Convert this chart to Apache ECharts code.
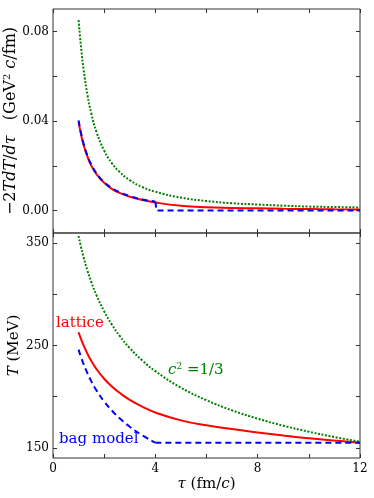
<!DOCTYPE html>
<html>
<head>
<meta charset="utf-8">
<script src="https://cdn.jsdelivr.net/npm/echarts@6/dist/echarts.min.js"></script>
<style>
  html, body { margin: 0; padding: 0; background: #fff; }
  #chart { width: 374px; height: 498px; }
</style>
</head>
<body>
<div id="chart"></div>
<script>
// proper time tau (fm/c)
var tau = [1, 1.1, 1.2, 1.35, 1.5, 1.7, 2, 2.3, 2.6, 3, 3.5, 4, 5, 6, 7, 8, 9, 10, 11, 12]

// -2T dT/dtau (GeV^2 c/fm)
var latticeRate = [0.0395, 0.0338, 0.0292, 0.0240, 0.0200, 0.0163, 0.0124, 0.0097, 0.0079, 0.0062, 0.0047, 0.0036, 0.0022, 0.0015, 0.0012, 0.0010, 0.0008, 0.0007, 0.0006, 0.0005]
var idealRate = [0.085, 0.0725, 0.0627, 0.0515, 0.0432, 0.0351, 0.0268, 0.0212, 0.0173, 0.0136, 0.0105, 0.0084, 0.0058, 0.0043, 0.0033, 0.0027, 0.0022, 0.0018, 0.0016, 0.0014]
var bagTau = [1, 1.1, 1.2, 1.35, 1.5, 1.7, 2, 2.3, 2.6, 3, 3.5, 4]
var bagRate = [0.0403, 0.0344, 0.0297, 0.0244, 0.0205, 0.0166, 0.0127, 0.0101, 0.0082, 0.0065, 0.0050, 0.0040]
var bagMixTau = [4, 4.05, 12]
var bagMixRate = [0.0040, 0, 0]

// T (MeV)
var latticeT = [263, 256, 249.8, 241.7, 234.8, 226.9, 217.5, 210, 203.8, 196.8, 190, 184.5, 176.8, 172, 168.3, 165, 162, 159.3, 157, 155]
var idealT = [357, 345.8, 335.9, 323, 311.9, 299.1, 283.4, 270.5, 259.6, 247.5, 235.1, 224.9, 208.8, 196.5, 186.6, 178.5, 171.6, 165.7, 160.5, 155.9]
var bagT = [246, 238.3, 231.5, 222.6, 214.9, 206.1, 195.3, 186.4, 178.9, 170.6, 162, 155]
var bagFlatTau = [4, 12]
var bagFlatT = [155, 155]

// ticks
var xTicks = [0, 2, 4, 6, 8, 10, 12]
var xLabels = [0, 4, 8, 12]
var rateTicks = [0, 0.02, 0.04, 0.06, 0.08]
var rateLabels = [0, 0.04, 0.08]
var tTicks = [150, 200, 250, 300, 350]
var tLabels = [150, 250, 350]

function pairs(xs, ys) {
    var out = []
    for (var i = 0; i < xs.length; i++) out.push([xs[i], ys[i]])
    return out
}

var serif = 'DejaVu Serif'
var frame = '#333'

function xAxis(grid, pos, showLabel) {
    return {
        type: 'value', gridIndex: grid, position: pos, min: 0, max: 12,
        axisLine: {show: false, onZero: false}, splitLine: {show: false},
        axisTick: {show: true, inside: true, length: 4, customValues: xTicks, lineStyle: {color: frame}},
        axisLabel: {show: showLabel, customValues: xLabels, margin: 5, color: '#000', fontFamily: serif, fontSize: 12}
    }
}

function yAxis(grid, pos, min, max, ticks, labels, fmt, showLabel) {
    return {
        type: 'value', gridIndex: grid, position: pos, min: min, max: max,
        axisLine: {show: false, onZero: false}, splitLine: {show: false},
        axisTick: {show: true, inside: true, length: 4, customValues: ticks, lineStyle: {color: frame}},
        axisLabel: {show: showLabel, customValues: labels, margin: 4, color: '#000', fontFamily: serif, fontSize: 12, formatter: fmt}
    }
}

var chart = echarts.init(document.getElementById('chart'))

var xs = [xAxis(0, 'bottom', false), xAxis(0, 'top', false), xAxis(1, 'bottom', true), xAxis(1, 'top', false)]
xs[2].name = '{i|τ} {n|(fm/}{i|c}{n|)}'
xs[2].nameLocation = 'middle'
xs[2].nameGap = 19
xs[2].nameMoveOverlap = false
xs[2].nameTextStyle = {
    color: '#000', fontFamily: serif, fontSize: 15,
    rich: {
        i: {fontFamily: serif, fontStyle: 'italic', fontSize: 15, color: '#000'},
        n: {fontFamily: serif, fontSize: 15, color: '#000'}
    }
}

var rateFmt = function (v) { return v.toFixed(2) }
var tFmt = function (v) { return String(v) }
var ys = [
    yAxis(0, 'left', -0.01, 0.09, rateTicks, rateLabels, rateFmt, true),
    yAxis(0, 'right', -0.01, 0.09, rateTicks, rateLabels, rateFmt, false),
    yAxis(1, 'left', 140, 360, tTicks, tLabels, tFmt, true),
    yAxis(1, 'right', 140, 360, tTicks, tLabels, tFmt, false)
]
ys[0].name = '{n|−2}{i|TdT}{n|/}{i|dτ}   {n|(GeV}{s|2}{n| }{i|c}{n|/fm)}'
ys[0].nameLocation = 'middle'
ys[0].nameRotate = 90
ys[0].nameGap = 33
ys[0].nameMoveOverlap = false
ys[0].nameTextStyle = {
    color: '#000', fontFamily: serif, fontSize: 16,
    rich: {
        i: {fontFamily: serif, fontStyle: 'italic', fontSize: 16, color: '#000'},
        n: {fontFamily: serif, fontSize: 16, color: '#000'},
        s: {fontFamily: serif, fontSize: 10, color: '#000', verticalAlign: 'top', padding: [0, 0, 8, 0]}
    }
}
ys[2].name = '{i|T} {n|(MeV)}'
ys[2].nameLocation = 'middle'
ys[2].nameRotate = 90
ys[2].nameGap = 31
ys[2].nameMoveOverlap = false
ys[2].nameTextStyle = {
    color: '#000', fontFamily: serif, fontSize: 15,
    rich: {
        i: {fontFamily: serif, fontStyle: 'italic', fontSize: 15, color: '#000'},
        n: {fontFamily: serif, fontSize: 15, color: '#000'}
    }
}

function line(name, data, xi, yi, color, type, smooth) {
    return {
        name: name, type: 'line', xAxisIndex: xi, yAxisIndex: yi,
        data: data, showSymbol: false, smooth: smooth,
        lineStyle: {color: color, width: 2, type: type}, animation: false
    }
}

var dash = [6, 4]
var dots = [2, 1.6]

chart.setOption({
    backgroundColor: '#fff',
    animation: false,
    grid: [
        {left: 53, right: 14, top: 9, height: 224, show: true, borderColor: frame, borderWidth: 1, containLabel: false, outerBoundsMode: 'none'},
        {left: 53, right: 14, top: 233, height: 225, show: true, borderColor: frame, borderWidth: 1, containLabel: false, outerBoundsMode: 'none'}
    ],
    xAxis: xs,
    yAxis: ys,
    series: [
        line('c2=1/3', pairs(tau, idealRate), 0, 0, '#008000', dots, true),
        line('lattice', pairs(tau, latticeRate), 0, 0, '#ff0000', 'solid', true),
        line('bag model', pairs(bagTau, bagRate), 0, 0, '#0000ff', dash, true),
        line('bag model mixed', pairs(bagMixTau, bagMixRate), 0, 0, '#0000ff', dash, false),
        line('c2=1/3', pairs(tau, idealT), 2, 2, '#008000', dots, true),
        line('lattice', pairs(tau, latticeT), 2, 2, '#ff0000', 'solid', true),
        line('bag model', pairs(bagTau, bagT), 2, 2, '#0000ff', dash, true),
        line('bag model mixed', pairs(bagFlatTau, bagFlatT), 2, 2, '#0000ff', dash, false)
    ],
    graphic: [
        {type: 'text', left: 56, top: 316, style: {text: 'lattice', fill: '#ff0000', font: '15px "DejaVu Serif"'}, z: 100},
        {type: 'text', left: 59, top: 432, style: {text: 'bag model', fill: '#0000ff', font: '15px "DejaVu Serif"'}, z: 100},
        {type: 'text', left: 168, top: 362, z: 100, style: {
            text: '{i|c}{s|2}{n| =1/3}',
            rich: {
                i: {fontFamily: serif, fontStyle: 'italic', fontSize: 15, fill: '#008000', color: '#008000'},
                s: {fontFamily: serif, fontSize: 9, fill: '#008000', color: '#008000', verticalAlign: 'top', padding: [0, 0, 8, 0]},
                n: {fontFamily: serif, fontSize: 15, fill: '#008000', color: '#008000'}
            }
        }}
    ]
})
</script>
</body>
</html>
